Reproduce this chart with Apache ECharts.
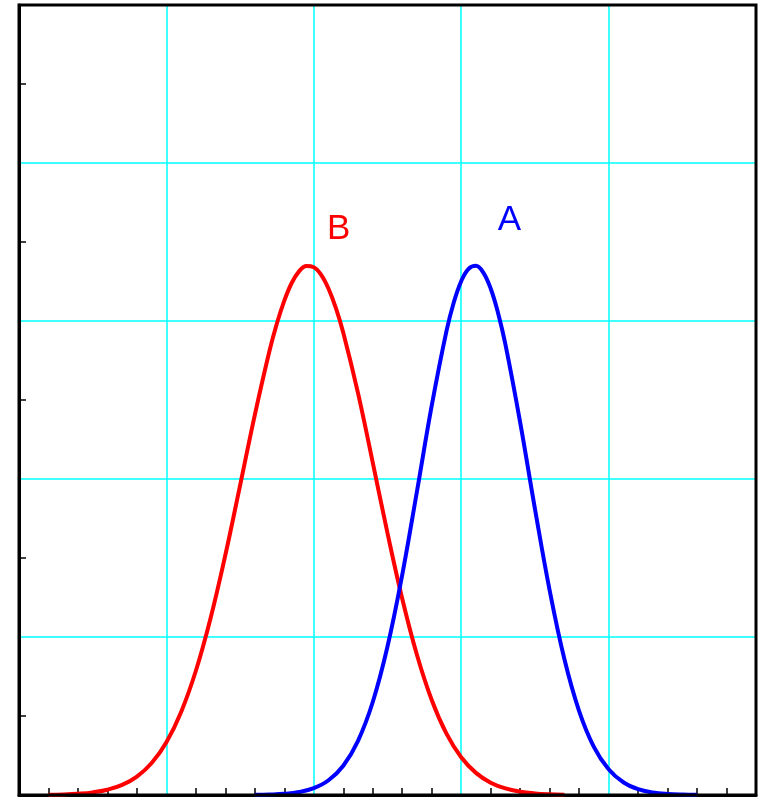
<!DOCTYPE html>
<html>
<head>
<meta charset="utf-8">
<script src="https://cdn.jsdelivr.net/npm/echarts@6/dist/echarts.min.js"></script>
<style>html,body{margin:0;padding:0;background:#fff;}#c{width:762px;height:797px;}</style>
</head>
<body>
<div id="c"></div>
<script>
// Curve B (red)
var xB = [1,1.5,2,2.5,3,3.5,4,4.5,5,5.5,6,6.5,7,7.5,8,8.5,8.75,9,9.25,9.5,9.75,10,10.25,10.5,10.75,11,11.5,12,12.5,13,13.5,14,14.5,15,15.5,16,16.5,17,17.5,18,18.5];
var yB = [0.003,0.007,0.016,0.033,0.067,0.128,0.233,0.405,0.669,1.052,1.573,2.241,3.038,3.920,4.812,5.626,5.971,6.258,6.481,6.628,6.696,6.681,6.584,6.409,6.163,5.852,5.087,4.208,3.314,2.484,1.772,1.203,0.777,0.478,0.280,0.156,0.083,0.042,0.020,0.009,0.004];
// Curve A (blue)
var xA = [8,8.5,9,9.5,10,10.5,11,11.5,12,12.5,13,13.5,14,14.5,14.75,15,15.25,15.5,15.75,16,16.25,16.5,17,17.5,18,18.5,19,19.5,20,20.5,21,21.5,22,22.5,23];
var yA = [0.002,0.006,0.015,0.038,0.087,0.187,0.371,0.686,1.177,1.879,2.787,3.845,4.928,5.872,6.237,6.504,6.661,6.700,6.612,6.411,6.102,5.703,4.717,3.626,2.591,1.721,1.063,0.610,0.326,0.161,0.074,0.032,0.013,0.005,0.002];
var seriesNames = ['A','B'];
var labelPosA = [16.64, 7.27];
var labelPosB = [10.84, 7.16];

function pairs(xs, ys){ return xs.map(function(x,i){ return [x, ys[i]]; }); }

function labelMark(pos, text, color){
  return {
    symbol: 'rect', symbolSize: [1,1], itemStyle: { color: 'rgba(0,0,0,0)' },
    data: [{ coord: pos, value: text }],
    label: { show: true, formatter: text, color: color, fontSize: 35, fontFamily: 'Liberation Sans, Arial, sans-serif', position: 'inside' }
  };
}

var chart = echarts.init(document.getElementById('c'));
chart.setOption({
  animation: false,
  backgroundColor: '#fff',
  grid: { left: 19, right: 6, top: 5, bottom: 2, show: true, borderColor: '#000', borderWidth: 3, backgroundColor: 'transparent', z: 10 },
  xAxis: {
    type: 'value', min: 0, max: 25, interval: 5,
    axisLine: { show: true, lineStyle: { color: '#000', width: 3 } },
    axisTick: { show: false, inside: true },
    minorTick: { show: true, splitNumber: 5, length: 7, lineStyle: { color: '#000', width: 1.5 } },
    axisLabel: { show: false },
    splitLine: { show: true, lineStyle: { color: '#00ffff', width: 1.5 } },
    minorSplitLine: { show: false }
  },
  yAxis: {
    type: 'value', min: 0, max: 10, interval: 2,
    axisLine: { show: true, lineStyle: { color: '#000', width: 3 } },
    axisTick: { show: false, inside: true },
    minorTick: { show: true, splitNumber: 2, length: 7, lineStyle: { color: '#000', width: 1.5 } },
    axisLabel: { show: false },
    splitLine: { show: true, lineStyle: { color: '#00ffff', width: 1.5 } },
    minorSplitLine: { show: false }
  },
  series: [
    {
      name: seriesNames[1], type: 'line', data: pairs(xB, yB), smooth: 0.4, showSymbol: false,
      lineStyle: { color: '#ff0000', width: 4 }, itemStyle: { color: '#ff0000' },
      markPoint: labelMark(labelPosB, seriesNames[1], '#ff0000')
    },
    {
      name: seriesNames[0], type: 'line', data: pairs(xA, yA), smooth: 0.4, showSymbol: false,
      lineStyle: { color: '#0000ff', width: 4 }, itemStyle: { color: '#0000ff' },
      markPoint: labelMark(labelPosA, seriesNames[0], '#0000ff')
    }
  ]
});
</script>
</body>
</html>
